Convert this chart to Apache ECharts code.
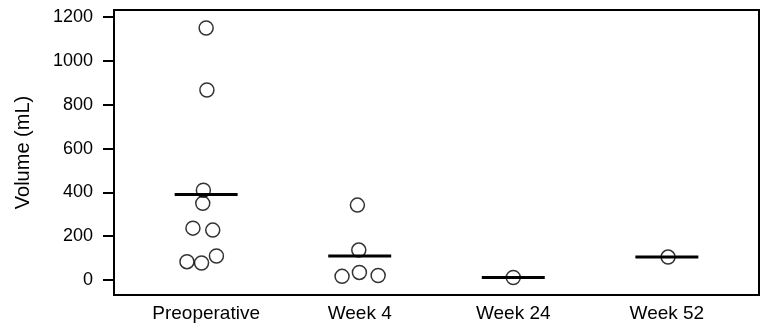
<!DOCTYPE html>
<html>
<head>
<meta charset="utf-8">
<title>Volume by visit</title>
<script src="https://cdn.jsdelivr.net/npm/echarts@6/dist/echarts.min.js"></script>
<style>
  html, body { margin: 0; padding: 0; background: #fff; }
  #chart { width: 762px; height: 331px; }
</style>
</head>
<body>
<div id="chart"></div>
<script>
// Visits along the x axis
var categories = ['Preoperative', 'Week 4', 'Week 24', 'Week 52'];

// Measured volumes (mL) per visit
var preopValues  = [1150, 867, 410, 350, 237, 228, 84, 78, 110];
var week4Values  = [342, 137, 17, 35, 21];
var week24Values = [12];
var week52Values = [105];

// Horizontal jitter of each point, in category units
var preopJitter  = [0, 0.005, -0.018, -0.022, -0.086, 0.043, -0.125, -0.03, 0.067];
var week4Jitter  = [-0.015, -0.006, -0.115, -0.002, 0.12];
var week24Jitter = [0];
var week52Jitter = [0.008];

// Y axis tick labels
var yTicks = [0, 200, 400, 600, 800, 1000, 1200];

var groups = [
  { values: preopValues,  jitter: preopJitter },
  { values: week4Values,  jitter: week4Jitter },
  { values: week24Values, jitter: week24Jitter },
  { values: week52Values, jitter: week52Jitter }
];

var FONT = 'Liberation Sans, Arial, sans-serif';

// Scatter points: x = category position + jitter
var points = [];
groups.forEach(function (g, i) {
  g.values.forEach(function (v, j) {
    points.push([i + 1 + g.jitter[j], v]);
  });
});

// Mean bars: short horizontal segments per group, separated by gaps
var halfWidth = 0.205;
var meanLines = [];
groups.forEach(function (g, i) {
  var sum = g.values.reduce(function (a, b) { return a + b; }, 0);
  var mean = sum / g.values.length;
  if (meanLines.length) meanLines.push('-');
  meanLines.push([i + 1 - halfWidth, mean]);
  meanLines.push([i + 1 + halfWidth, mean]);
});

var chart = echarts.init(document.getElementById('chart'), null, { renderer: 'canvas' });
chart.setOption({
  animation: false,
  backgroundColor: '#ffffff',
  grid: {
    left: 114, right: 3, top: 10, bottom: 36,
    show: true,
    borderColor: '#000',
    borderWidth: 2,
    backgroundColor: 'transparent'
  },
  xAxis: {
    type: 'value',
    min: 0.4,
    max: 4.6,
    axisLine: { show: false },
    axisTick: { show: false },
    splitLine: { show: false },
    axisLabel: {
      customValues: [1, 2, 3, 4],
      formatter: function (v) { return categories[Math.round(v) - 1] || ''; },
      color: '#000',
      fontFamily: FONT,
      fontSize: 19,
      margin: 9
    }
  },
  yAxis: {
    type: 'value',
    min: -68,
    max: 1232,
    name: 'Volume (mL)',
    nameLocation: 'middle',
    nameGap: 81,
    nameRotate: 90,
    nameTextStyle: { color: '#000', fontFamily: FONT, fontSize: 20 },
    axisLine: { show: false },
    splitLine: { show: false },
    axisTick: {
      show: true,
      customValues: yTicks,
      length: 11,
      lineStyle: { color: '#000', width: 2 }
    },
    axisLabel: {
      customValues: yTicks,
      formatter: function (v) { return String(v); },
      color: '#000',
      fontFamily: FONT,
      fontSize: 18,
      margin: 21
    }
  },
  series: [
    {
      type: 'scatter',
      data: points,
      symbol: 'circle',
      symbolSize: 14,
      itemStyle: { color: 'transparent', borderColor: '#000', borderWidth: 1.5 },
      z: 2
    },
    {
      type: 'line',
      data: meanLines,
      connectNulls: false,
      showSymbol: false,
      symbol: 'none',
      lineStyle: { color: '#000', width: 3 },
      z: 3
    }
  ]
});
</script>
</body>
</html>
